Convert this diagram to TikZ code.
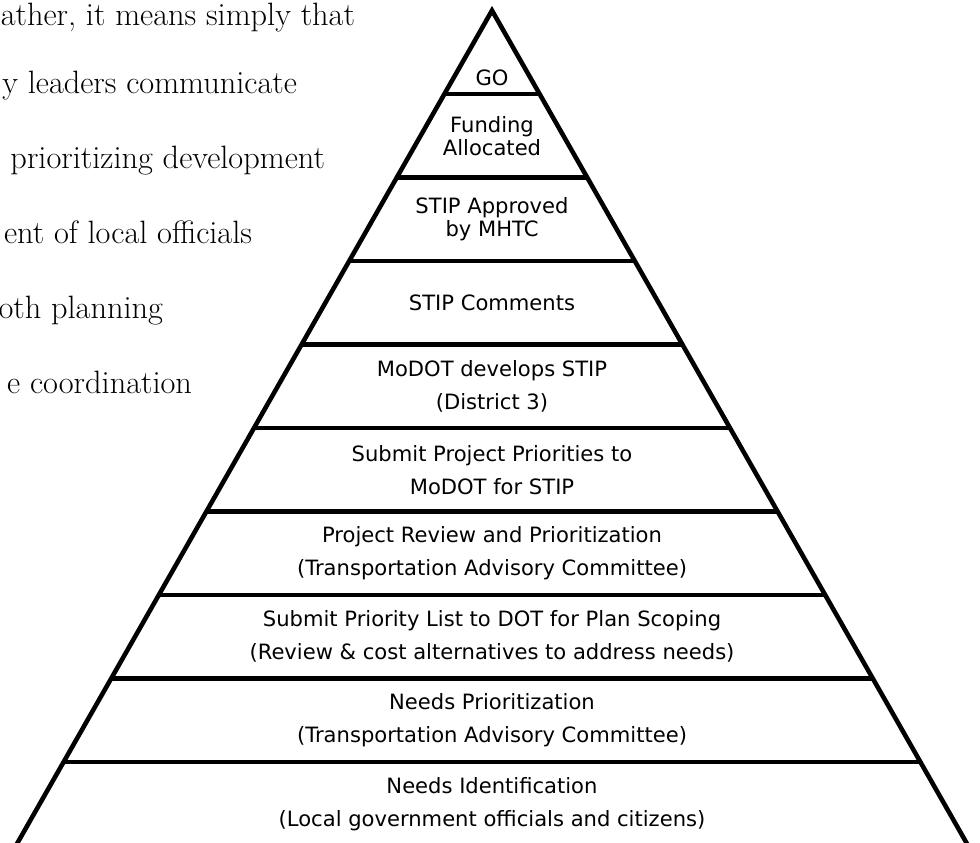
\documentclass[tikz,border=0pt]{standalone}
\usepackage{fontspec}
\newfontfamily\levelfont{DejaVu Sans}
\usetikzlibrary{positioning}

\begin{document}
\begin{tikzpicture}[
        x=0.02cm, y=-0.02cm,
        every node/.style={inner sep=0pt, outer sep=0pt},
        level/.style={font=\levelfont\fontsize{12}{18.7}\selectfont, align=center, text=black},
        tight/.style={level, font=\levelfont\fontsize{12}{13}\selectfont},
        prose/.style={font=\fontsize{18.4}{22}\selectfont, anchor=base east},
        wall/.style={draw, line width=2.6pt, line join=miter},
        shelf/.style={draw, line width=2.6pt}
    ]
        \useasboundingbox (0,0) rectangle (980,842);
        \clip (0,0) rectangle (980,842);

        % Running text on the left
        \node[prose] (t1) at (355,25) {ather, it means simply that};
        \node[prose] (t2) at (297,93) {y leaders communicate};
        \node[prose] (t3) at (325,168) {prioritizing development};
        \node[prose] (t4) at (252,243) {ent of local officials};
        \node[prose] (t5) at (163,318) {oth planning};
        \node[prose] (t6) at (192,393) {e coordination};

        % Pyramid outline
        \coordinate (apex) at (492,10.5);
        \coordinate (baseL) at (16,845.5);
        \coordinate (baseR) at (968,845.5);
        \draw[wall] (baseL) -- (apex) -- (baseR);

        % Shelves between the levels
        \foreach \k in {1,...,9}{
            \coordinate (L\k) at ({492-47.6*\k},{10.5+83.5*\k});
            \coordinate (R\k) at ({492+47.6*\k},{10.5+83.5*\k});
            \draw[shelf] (L\k) -- (R\k);
        }

        % Levels, top to bottom
        \node[level] (go) at (492,78) {GO};
        \node[tight] (funding) at (492,135.75) {Funding\\Allocated};
        \node[tight] (approved) at (492,219.25) {STIP Approved\\by MHTC};
        \node[level] (comments) at (492,302.75) {STIP Comments};
        \node[level] (develops) at (492,386.25) {MoDOT develops STIP\\(District 3)};
        \node[level] (submit) at (492,469.75) {Submit Project Priorities to\\MoDOT for STIP};
        \node[level] (review) at (492,553.25) {Project Review and Prioritization\\(Transportation Advisory Committee)};
        \node[level] (scoping) at (492,636.75) {Submit Priority List to DOT for Plan Scoping\\(Review \& cost alternatives to address needs)};
        \node[level] (needsprio) at (492,720.25) {Needs Prioritization\\(Transportation Advisory Committee)};
        \node[level] (needsid) at (492,803.75) {Needs Identification\\(Local government officials and citizens)};
    \end{tikzpicture}
\end{document}
